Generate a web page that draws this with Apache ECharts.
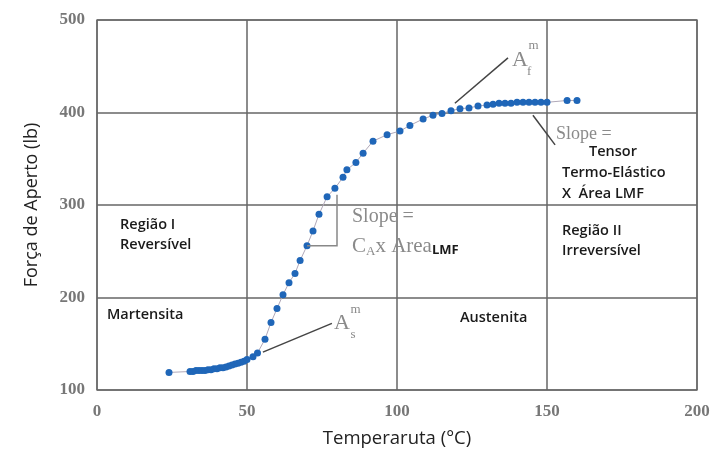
<!DOCTYPE html>
<html><head><meta charset="utf-8">
<script src="https://cdn.jsdelivr.net/npm/echarts@6/dist/echarts.min.js"></script>
<style>html,body{margin:0;padding:0;background:#fff}#c{width:715px;height:463px}</style>
</head><body><div id="c"></div>
<script>
const temperature = [24, 31, 32, 33, 34, 35, 36, 37, 38, 39, 40, 41, 42, 43, 44, 45, 46, 47, 48, 49, 50, 52, 53.5, 56, 58, 60, 62, 64, 66, 67.7, 70, 72, 74, 76.7, 79.3, 82, 83.3, 86.3, 88.7, 92, 96.7, 101, 104.3, 108.7, 112, 115, 118, 121, 124, 127, 130, 132, 134, 136, 138, 140, 142, 144, 146, 148, 150, 156.7, 160];
const force = [119, 120, 120, 121, 121, 121, 121, 122, 122, 123, 123, 124, 124, 125, 126, 127, 128, 129, 130, 131, 133, 136, 140, 155, 173, 188, 203, 216, 226, 240, 256, 272, 290, 309, 318, 330, 338, 346, 356, 369, 376, 380, 386, 393, 397, 399, 402, 404, 405, 407, 408, 409, 410, 410, 410, 411, 411, 411, 411, 411, 411, 413, 413];
const xTicks = [0, 50, 100, 150, 200];
const yTicks = [100, 200, 300, 400, 500];

const chart = echarts.init(document.getElementById('c'));
const tickFont = {color: '#777', fontFamily: 'Liberation Serif', fontSize: 17, fontWeight: 'bold'};
chart.setOption({
  animation: false,
  grid: {left: 97, right: 18, top: 20, bottom: 73, show: true, borderColor: '#808080', borderWidth: 1.5},
  xAxis: {
    type: 'value', min: xTicks[0], max: xTicks[xTicks.length - 1], interval: 50,
    name: 'Temperaruta (°C)', nameLocation: 'middle', nameGap: 39,
    nameTextStyle: {fontFamily: 'Open Sans', fontSize: 18.5, color: '#222'},
    axisLine: {show: false}, axisTick: {show: false},
    axisLabel: Object.assign({margin: 13}, tickFont),
    splitLine: {show: true, lineStyle: {color: '#666', width: 1.5}}
  },
  yAxis: {
    type: 'value', min: yTicks[0], max: yTicks[yTicks.length - 1], interval: 100,
    name: 'Força de Aperto (lb)', nameLocation: 'middle', nameGap: 56,
    nameTextStyle: {fontFamily: 'Open Sans', fontSize: 18, color: '#222'},
    axisLine: {show: false}, axisTick: {show: false},
    axisLabel: Object.assign({margin: 12}, tickFont),
    splitLine: {show: true, lineStyle: {color: '#666', width: 1.5}}
  },
  series: [{
    type: 'line',
    data: temperature.map((t, i) => [t, force[i]]),
    symbol: 'circle', symbolSize: 7,
    itemStyle: {color: '#1f66b8'},
    lineStyle: {color: '#b0a8b8', width: 1},
    z: 5
  }]
});

function P(x, y) { return chart.convertToPixel({gridIndex: 0}, [x, y]); }
const serifGray = '#8a8a8a';
function txt(x, y, text, style) {
  const p = P(x, y);
  return {type: 'text', x: p[0], y: p[1], z: 10, style: Object.assign({text: text, verticalAlign: 'middle', align: 'left'}, style)};
}
function line(pts, color, w) {
  return {type: 'polyline', z: 9, shape: {points: pts.map(q => P(q[0], q[1]))}, style: {stroke: color, lineWidth: w, fill: null}};
}
const region = {fontFamily: 'Open Sans', fontSize: 14.5, fontWeight: 600, fill: '#1a1a1a', letterSpacing: -0.3};
const g = [
  txt(7.7, 279, 'Região I', region),
  txt(7.7, 257, 'Reversível', region),
  txt(3.3, 181, 'Martensita', region),
  txt(121, 178, 'Austenita', region),
  txt(155, 272, 'Região II', region),
  txt(155, 250, 'Irreversível', region),
  txt(85, 287, 'Slope =', {fontFamily: 'Liberation Serif', fontSize: 20, fill: serifGray}),
  (function () {
    const p = P(85, 255);
    return {type: 'text', x: p[0], y: p[1], z: 10, style: {
      text: '{c|C}{sub|A}{c|x Area}{lmf|LMF}', verticalAlign: 'middle',
      rich: {
        c: {fontFamily: 'Liberation Serif', fontSize: 21, fill: serifGray},
        sub: {fontFamily: 'Liberation Serif', fontSize: 13, fill: serifGray, padding: [10, 0, 0, 0]},
        lmf: {fontFamily: 'Open Sans', fontSize: 13, fontWeight: 'bold', fill: '#1a1a1a', padding: [8, 0, 0, 0]}
      }
    }};
  })(),
  txt(153, 377, 'Slope =', {fontFamily: 'Liberation Serif', fontSize: 18, fill: serifGray}),
  txt(164, 357, 'Tensor', region),
  txt(155, 335, 'Termo-Elástico', region),
  txt(155, 312, 'X  Área LMF', region),
  // A_f^m
  txt(138.3, 457, 'A', {fontFamily: 'Liberation Serif', fontSize: 22, fill: serifGray}),
  txt(143.8, 472, 'm', {fontFamily: 'Liberation Serif', fontSize: 13, fill: serifGray}),
  txt(143.3, 444, 'f', {fontFamily: 'Liberation Serif', fontSize: 13, fill: serifGray}),
  // A_s^m
  txt(79, 172, 'A', {fontFamily: 'Liberation Serif', fontSize: 22, fill: serifGray}),
  txt(84.5, 187, 'm', {fontFamily: 'Liberation Serif', fontSize: 13, fill: serifGray}),
  txt(84.5, 160, 's', {fontFamily: 'Liberation Serif', fontSize: 13, fill: serifGray}),
  line([[119.3, 410], [137, 459]], '#444', 1.5),
  line([[145.3, 397], [152.7, 365]], '#444', 1.5),
  line([[55.3, 141], [78.3, 172]], '#444', 1.5),
  line([[70, 256], [80, 256], [80, 311]], '#888', 1.5)
];
chart.setOption({graphic: g});
</script></body></html>
